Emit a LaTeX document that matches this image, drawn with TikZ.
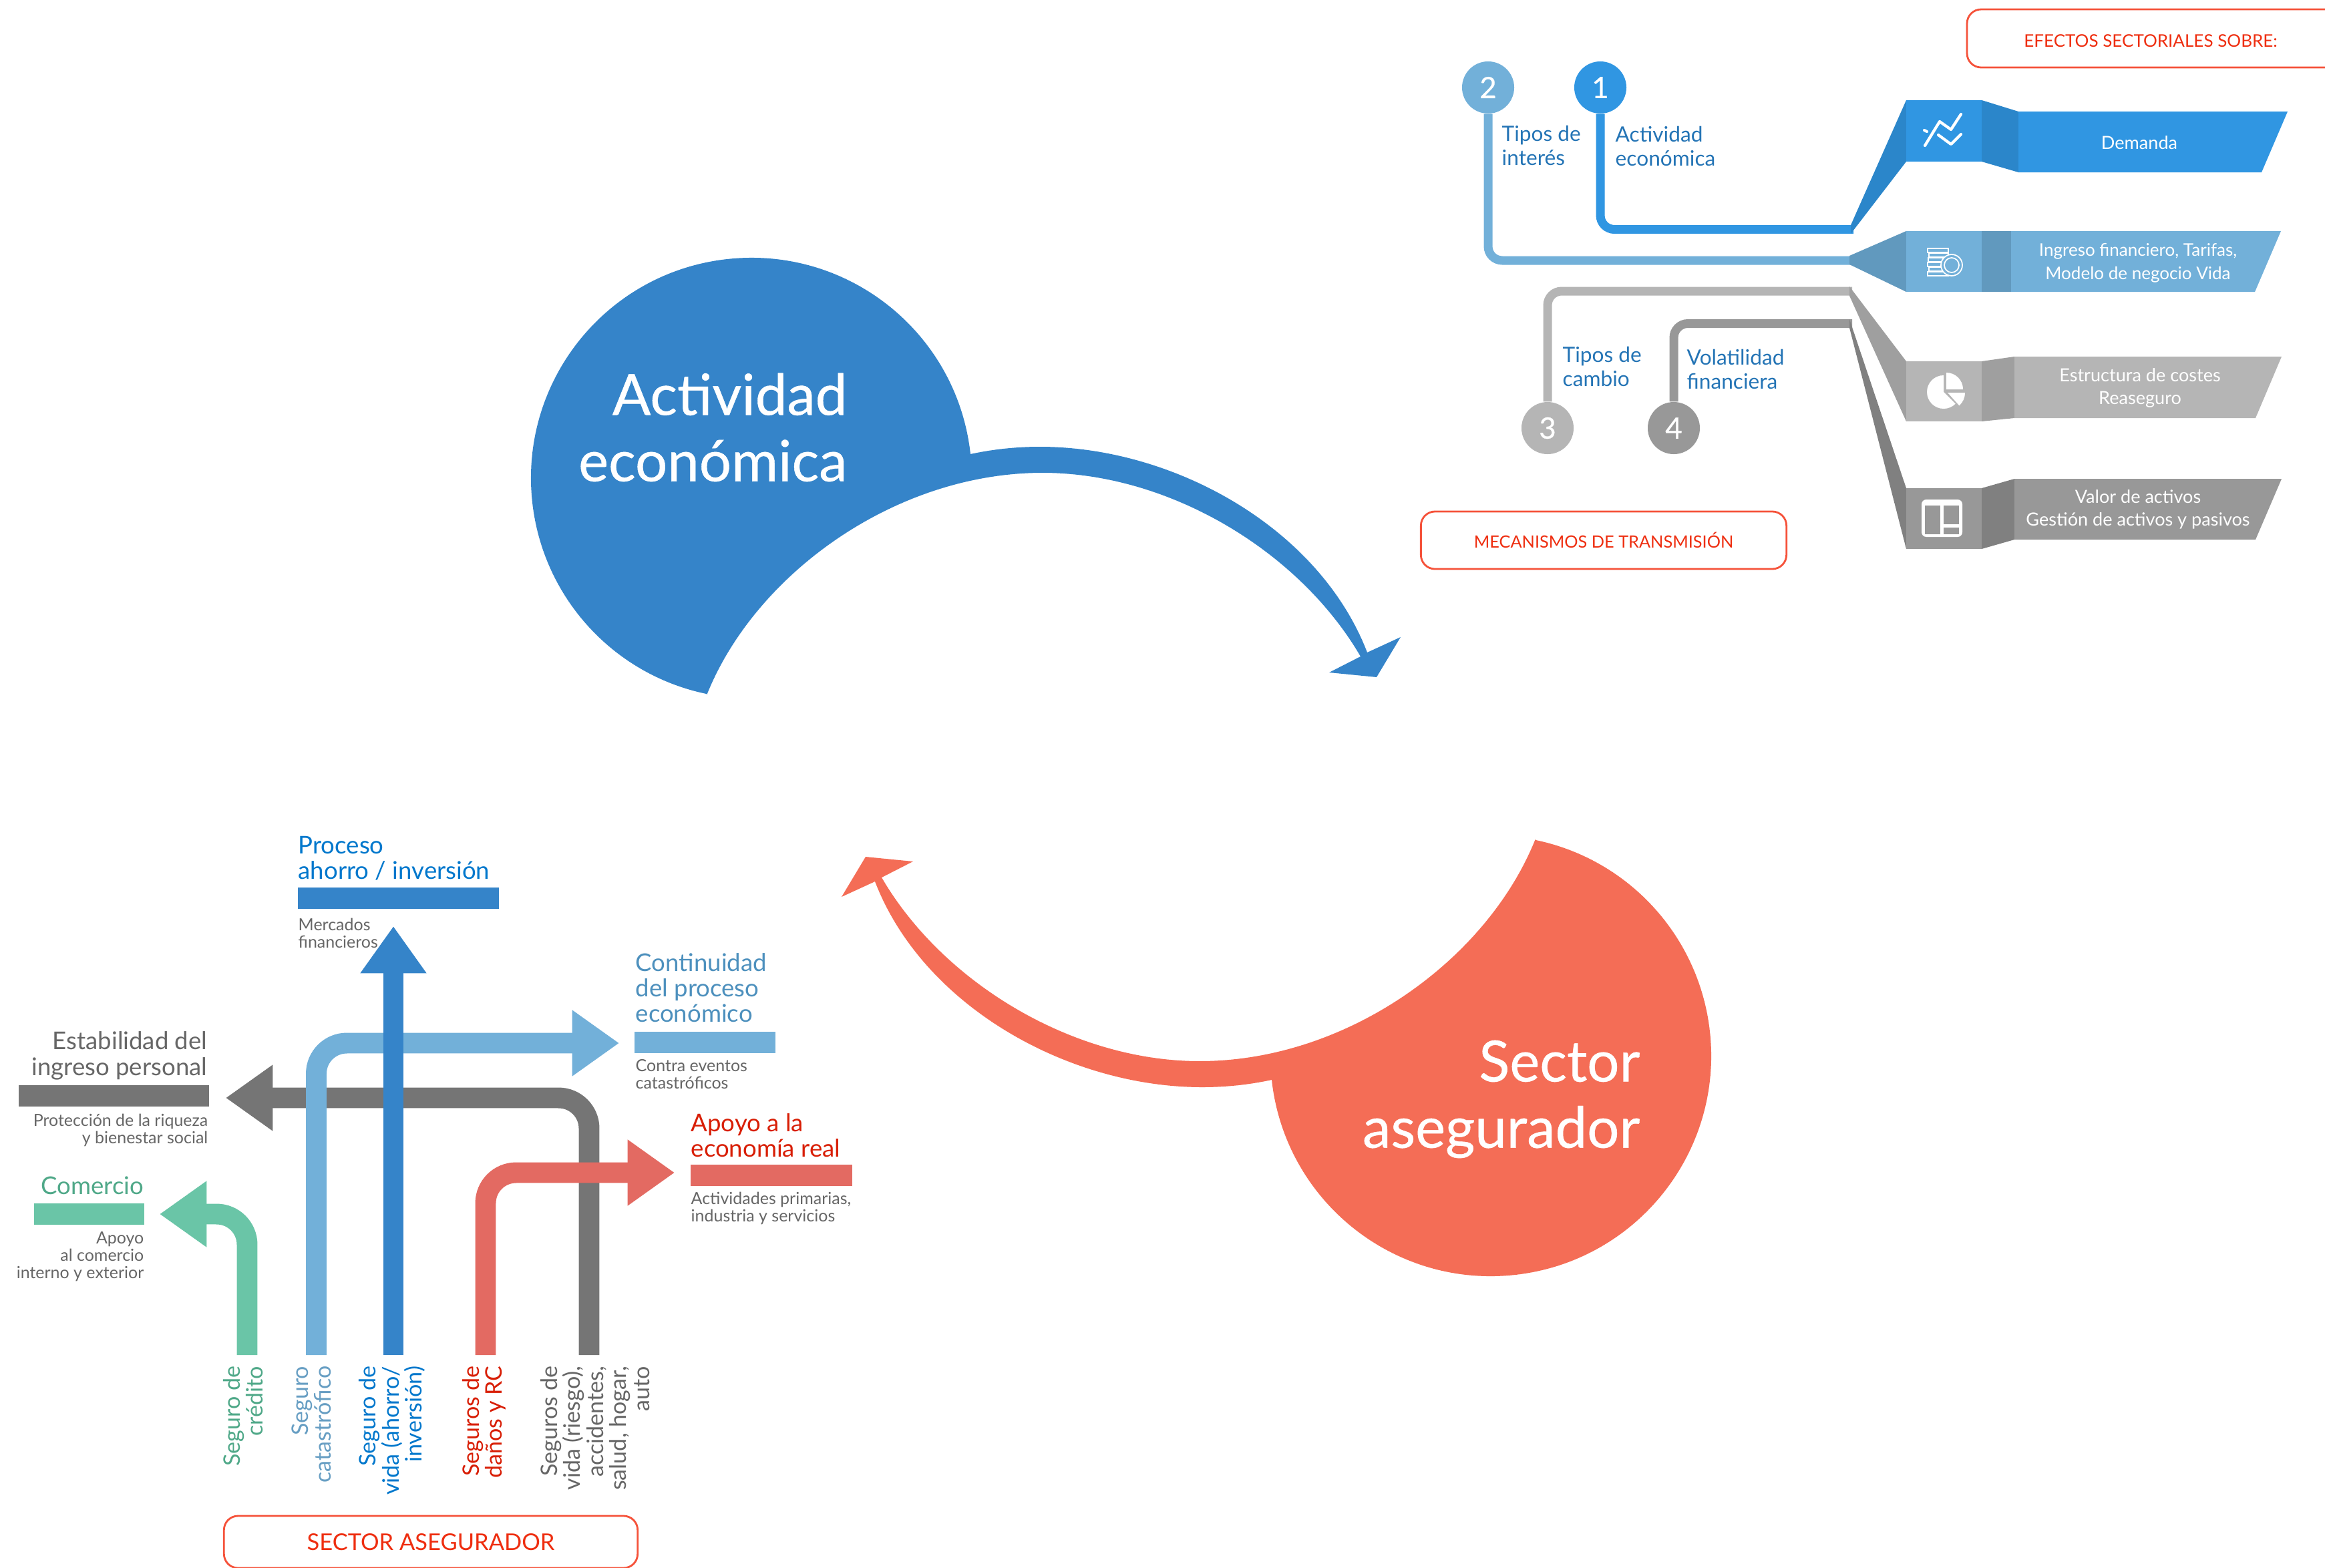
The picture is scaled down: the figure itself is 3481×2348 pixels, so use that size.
\documentclass[tikz,border=0pt]{standalone}
\usepackage{fontspec}
\setmainfont{Lato}
\newfontfamily\fuerte{Lato}[BoldFont=Lato, BoldFeatures={FakeBold=0.5}]
\usepackage{xcolor}
\usepackage{tikz}
\usetikzlibrary{arrows.meta}
\definecolor{azul}{HTML}{3584C9}
\definecolor{coral}{HTML}{F46D56}
\definecolor{cinta1}{HTML}{3096E2}
\definecolor{pliegue1}{HTML}{2B86CA}
\definecolor{cinta2}{HTML}{72B0D9}
\definecolor{pliegue2}{HTML}{6199BE}
\definecolor{cinta3}{HTML}{B5B5B5}
\definecolor{pliegue3}{HTML}{9F9F9F}
\definecolor{cinta4}{HTML}{989898}
\definecolor{pliegue4}{HTML}{808080}
\definecolor{verde}{HTML}{6AC5A7}
\definecolor{rojizo}{HTML}{E36A62}
\definecolor{gris}{HTML}{757575}
\definecolor{rojo}{HTML}{F5523A}
\definecolor{txtrojo}{HTML}{EE2E10}
\definecolor{txtazul}{HTML}{2474B5}
\definecolor{txtproceso}{HTML}{0077CC}
\definecolor{txtconti}{HTML}{4D90BD}
\definecolor{txtverde}{HTML}{4FA888}
\definecolor{txtapoyo}{HTML}{D81E05}
\definecolor{txtgris}{HTML}{666666}
\tikzset{
	lienzo/.style = {x=0.01cm, y=-0.01cm},
	titulo/.style = {text=white, align=right, anchor=east, inner sep=0pt, font=\fuerte\bfseries\fontsize{24.2}{28.2}\selectfont},
	cinta/.style = {line width=3.7pt, rounded corners=6pt},
	numero/.style = {circle, minimum size=0.78cm, inner sep=0pt, text=white, font=\fuerte\bfseries\fontsize{12.5}{14}\selectfont},
	mecanismo/.style = {text=txtazul, align=left, anchor=west, inner sep=0pt, font=\fontsize{9}{10.2}\selectfont},
	efecto/.style = {text=white, align=center, inner sep=0pt, font=\fontsize{7.7}{9.8}\selectfont},
	recuadro/.style = {draw=rojo, line width=0.8pt, rounded corners=6pt},
	aviso/.style = {text=txtrojo, inner sep=0pt},
	flecha/.style = {line width=8.8pt, rounded corners=13pt, -{Triangle[length=20pt,width=26.8pt]}},
	etiqueta/.style = {inner sep=0pt, font=\fontsize{10.4}{10.9}\selectfont},
	nota/.style = {inner sep=0pt, text=txtgris, font=\fontsize{7.1}{7.4}\selectfont},
	seguro/.style = {rotate=90, anchor=east, align=right, inner sep=0pt, font=\fontsize{9.7}{9.8}\selectfont},
}
\newcommand{\arcoflecha}{(1058,1041) .. controls (1130,860) and (1340,708) .. (1561,708)
	.. controls (1750,708) and (1945,825) .. (2037,983)
	-- (1990,1007) -- (2061,1014) -- (2097,954) -- (2047,977)
	.. controls (1975,790) and (1757,669) .. (1557,669)
	.. controls (1525,669) and (1490,672) .. (1453,680)
	arc [start angle=353.74, end angle=101.65, radius=330] -- cycle}

\begin{document}
\begin{tikzpicture}[lienzo]
	\useasboundingbox (0,0) rectangle (3481,2348);

	% grandes circulos
	\fill [azul] \arcoflecha;
	\node [titulo] (actividad) at (1269,640) {Actividad\\económica};
	\begin{scope}[rotate around={180:(1678.5,1148.5)}]
		\fill [coral] \arcoflecha;
	\end{scope}
	\node [titulo] (sector) at (2456,1646) {Sector\\asegurador};

	% mecanismos
	\node [numero, fill=cinta1] (n1) at (2396,131) {1};
	\node [numero, fill=cinta2] (n2) at (2228,131) {2};
	\node [numero, fill=cinta3] (n3) at (2317,641) {3};
	\node [numero, fill=cinta4] (n4) at (2506,641) {4};
	\coordinate (c1) at (2775,343.5);
	\coordinate (c2) at (2773,390);
	\coordinate (c3) at (2773,436);
	\coordinate (c4) at (2773,484.5);
	\draw [cinta, cinta1] (n1) |- (c1);
	\draw [cinta, cinta2] (n2) |- (c2);
	\draw [cinta, cinta3] (n3) |- (c3);
	\draw [cinta, cinta4] (n4) |- (c4);
	\node [mecanismo] (m1) at (2418,219) {Actividad\\económica};
	\node [mecanismo] (m2) at (2248,218) {Tipos de\\interés};
	\node [mecanismo] (m3) at (2339,549) {Tipos de\\cambio};
	\node [mecanismo] (m4) at (2525,553) {Volatilidad\\financiera};

	% efectos
	\fill [pliegue1] (2771,337) -- (2854,150) -- (2854,242) -- (2771,350) -- cycle;
	\fill [cinta1] (2854,150) rectangle (2967,242);
	\fill [pliegue1] (2967,150) -- (3022,167) -- (3022,258) -- (2967,242) -- cycle;
	\fill [cinta1] (3022,167) -- (3425,167) -- (3386,258) -- (3022,258) -- cycle;
	\node [efecto] (e1) at (3203,214) {Demanda};

	\fill [pliegue2] (2769,383) -- (2854,346) -- (2854,437) -- (2769,396) -- cycle;
	\fill [cinta2] (2854,346) rectangle (2967,437);
	\fill [pliegue2] (2967,346) rectangle (3011,437);
	\fill [cinta2] (3011,346) -- (3415,346) -- (3376,437) -- (3011,437) -- cycle;
	\node [efecto, font=\fontsize{7.4}{9.8}\selectfont] (e2) at (3201,394) {Ingreso financiero, Tarifas,\\Modelo de negocio Vida};

	\fill [pliegue3] (2769,429) -- (2854,541) -- (2854,631) -- (2769,443) -- cycle;
	\fill [cinta3] (2854,541) rectangle (2967,631);
	\fill [pliegue3] (2967,541) -- (3016,534) -- (3016,626) -- (2967,631) -- cycle;
	\fill [cinta3] (3016,534) -- (3416,534) -- (3377,626) -- (3016,626) -- cycle;
	\node [efecto] (e3) at (3204,581) {Estructura de costes\\Reaseguro};

	\fill [pliegue4] (2769,478) -- (2854,731) -- (2854,822) -- (2769,491) -- cycle;
	\fill [cinta4] (2854,731) rectangle (2967,822);
	\fill [pliegue4] (2967,731) -- (3016,717) -- (3016,808) -- (2967,822) -- cycle;
	\fill [cinta4] (3016,717) -- (3416,717) -- (3377,808) -- (3016,808) -- cycle;
	\node [efecto] (e4) at (3201,763) {Valor de activos\\Gestión de activos y pasivos};

	% iconos
	\draw [white, line width=1.2pt, line cap=round, line join=round] (2882,218) -- (2904,182) -- (2921,194) -- (2936,171);
	\draw [white, line width=1.2pt, line cap=round, line join=round] (2902,202) -- (2921,216) -- (2936,201);
	\draw [white, line width=1.2pt, line cap=round] (2881,195) -- (2885,197);
	\foreach \y/\x in {372/2886, 379/2888, 386/2887, 393/2886, 400/2888, 407/2886}
		\draw [white, line width=0.5pt] (\x,\y) rectangle (2917,\y+6);
	\draw [white, fill=cinta2, line width=0.5pt] (2922,397) circle [radius=16];
	\draw [white, line width=0.5pt] (2922,397) circle [radius=11];
	\fill [white] (2910,587) -- ++(270:25) arc [start angle=270, end angle=45, radius=25] -- cycle;
	\fill [white] (2914,583) -- ++(270:25) arc [start angle=270, end angle=360, radius=25] -- cycle;
	\fill [white] (2916,588) -- ++(0:26) arc [start angle=0, end angle=48, radius=26] -- cycle;
	\fill [white, rounded corners=2pt] (2877,748) rectangle (2938,804);
	\fill [cinta4] (2882,757) rectangle (2905,800);
	\fill [cinta4] (2910,757) rectangle (2933,785);
	\fill [cinta4] (2910,790) rectangle (2933,800);

	% recuadros
	\draw [recuadro] (2945,14) rectangle (3600,101);
	\node [aviso, font=\fontsize{7.4}{9}\selectfont] (efectos) at (3220,61) {EFECTOS SECTORIALES SOBRE:};
	\node [recuadro, minimum width=5.47cm, minimum height=0.86cm] (mecanismos) at (2401,809) {};
	\node [aviso, font=\fontsize{7.2}{9}\selectfont] at (mecanismos) {MECANISMOS DE TRANSMISIÓN};
	\node [recuadro, minimum width=6.19cm, minimum height=0.78cm] (asegurador) at (645,2309) {};
	\node [aviso, font=\fontsize{9.8}{12}\selectfont] at (asegurador) {SECTOR ASEGURADOR};

	% flechas del sector asegurador
	\coordinate (g0) at (882,2029);
	\coordinate (g1) at (338,1644);
	\coordinate (l0) at (473.5,2029);
	\coordinate (l1) at (927,1562);
	\coordinate (r0) at (727,2029);
	\coordinate (r1) at (1010,1756);
	\coordinate (v0) at (370,2029);
	\coordinate (v1) at (239,1818);
	\coordinate (a0) at (589,2029);
	\coordinate (a1) at (589,1387);
	\draw [flecha, gris] (g0) |- (g1);
	\draw [flecha, cinta2] (l0) |- (l1);
	\draw [flecha, rojizo] (r0) |- (r1);
	\draw [flecha, verde] (v0) |- (v1);
	\draw [flecha, azul] (a0) -- (a1);

	% bloques
	\fill [azul] (446,1329) rectangle (747,1361);
	\fill [cinta2] (950,1545) rectangle (1161,1577);
	\fill [gris] (28,1625) rectangle (313,1657);
	\fill [rojizo] (1034,1744) rectangle (1276,1776);
	\fill [verde] (51,1802) rectangle (216,1834);

	\node [etiqueta, text=txtproceso, anchor=west, align=left] (proceso) at (446,1285) {Proceso\\ahorro / inversión};
	\node [nota, anchor=west, align=left] (mercados) at (446,1397) {Mercados\\financieros};
	\node [etiqueta, text=txtconti, anchor=west, align=left] (continuidad) at (951,1479) {Continuidad\\del proceso\\económico};
	\node [nota, anchor=west, align=left] (contra) at (951,1609) {Contra eventos\\catastróficos};
	\node [etiqueta, text=txtgris, anchor=east, align=right] (estabilidad) at (311,1581) {Estabilidad del\\ingreso personal};
	\node [nota, anchor=east, align=right] (proteccion) at (312,1692) {Protección de la riqueza\\y bienestar social};
	\node [etiqueta, text=txtapoyo, anchor=west, align=left] (apoyo) at (1034,1700) {Apoyo a la\\economía real};
	\node [nota, anchor=west, align=left] (primarias) at (1034,1809) {Actividades primarias,\\industria y servicios};
	\node [etiqueta, text=txtverde, anchor=east] (comercio) at (216,1775) {Comercio};
	\node [nota, anchor=east, align=right] (alcomercio) at (216,1882) {Apoyo\\al comercio\\interno y exterior};

	\node [seguro, text=txtverde] (s1) at (364,2045) {Seguro de\\crédito};
	\node [seguro, text=cinta2!90!black] (s2) at (466.5,2045) {Seguro\\catastrófico};
	\node [seguro, text=txtproceso] (s3) at (587,2045) {Seguro de\\vida (ahorro/\\inversión)};
	\node [seguro, text=txtapoyo] (s4) at (725,2045) {Seguros de\\daños y RC};
	\node [seguro, text=txtgris] (s5) at (891,2045) {Seguros de\\vida (riesgo),\\accidentes,\\salud, hogar,\\auto};
\end{tikzpicture}
\end{document}
